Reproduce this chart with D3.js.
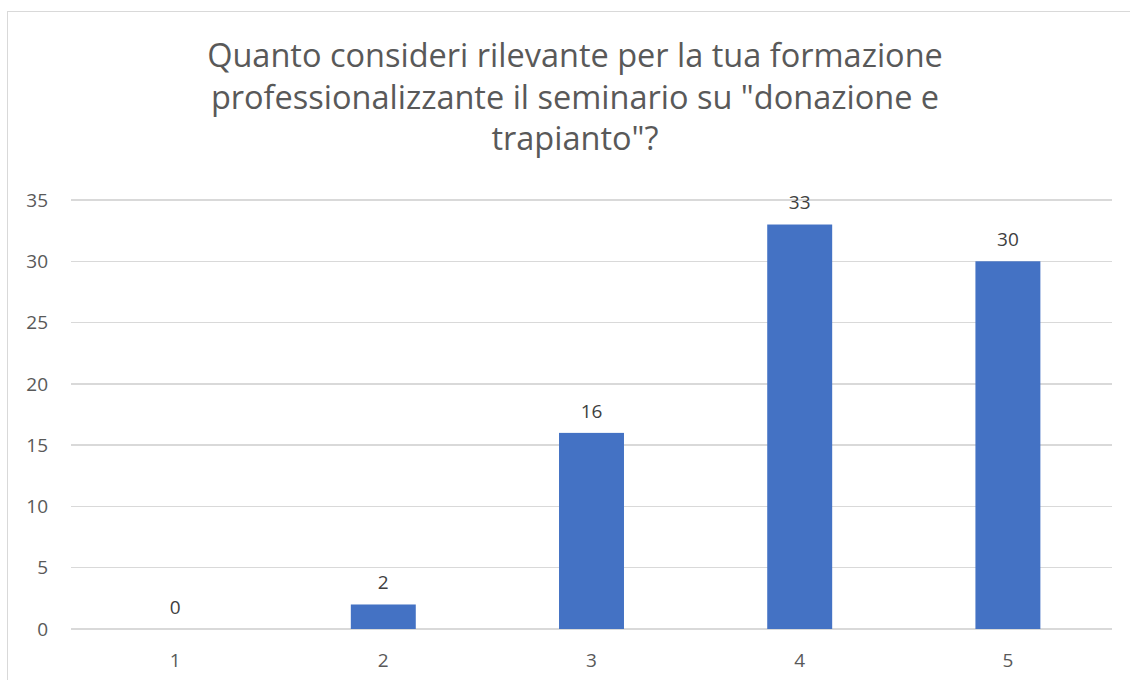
<!DOCTYPE html>
<meta charset="utf-8">
<script src="https://d3js.org/d3.v7.min.js"></script>
<style>
  body { margin: 0; background: #fff; }
  text { font-family: "Open Sans", "Liberation Sans", sans-serif; }
  .grid line { stroke: #d9d9d9; stroke-width: 1.3px; shape-rendering: crispEdges; }
  .tick-label { fill: #595959; font-size: 19px; }
  .bar-label { fill: #404040; font-size: 19px; }
  .title { fill: #595959; font-size: 32.5px; }
</style>
<div id="chart"></div>
<script>
  var categories = ["1", "2", "3", "4", "5"];
  var values = [0, 2, 16, 33, 30];
  var yTicks = [0, 5, 10, 15, 20, 25, 30, 35];
  var titleLines = [
    "Quanto consideri rilevante per la tua formazione",
    "professionalizzante il seminario su \"donazione e",
    "trapianto\"?"
  ];

  var W = 1130, H = 680;
  var margin = {top: 200, right: 18, bottom: 51, left: 71};
  var width = W - margin.left - margin.right,
      height = H - margin.top - margin.bottom;

  var svg = d3.select("#chart").append("svg")
      .attr("width", W)
      .attr("height", H);

  // chart frame (runs off the right and bottom of the picture)
  svg.append("rect")
      .attr("x", 7.5).attr("y", 11.5)
      .attr("width", W + 20).attr("height", H + 20)
      .attr("fill", "#fff")
      .attr("stroke", "#d9d9d9");

  svg.selectAll(".title").data(titleLines).enter()
    .append("text")
      .attr("class", "title")
      .attr("x", 575)
      .attr("y", function(d, i) { return 67 + i * 41.5; })
      .attr("text-anchor", "middle")
      .text(function(d) { return d; });

  var g = svg.append("g")
      .attr("transform", "translate(" + margin.left + "," + margin.top + ")");

  var x = d3.scaleBand()
      .domain(categories)
      .range([0, width])
      .paddingInner(0.688)
      .paddingOuter(0.344);

  var y = d3.scaleLinear()
      .domain([0, 35])
      .range([height, 0]);

  g.append("g").attr("class", "grid")
    .selectAll("line").data(yTicks).enter()
    .append("line")
      .attr("x1", 0).attr("x2", width)
      .attr("y1", function(d) { return y(d); })
      .attr("y2", function(d) { return y(d); });

  g.selectAll(".ylab").data(yTicks).enter()
    .append("text")
      .attr("class", "tick-label")
      .attr("x", -23)
      .attr("y", function(d) { return y(d); })
      .attr("dy", "0.35em")
      .attr("text-anchor", "end")
      .text(function(d) { return d; });

  g.selectAll(".xlab").data(categories).enter()
    .append("text")
      .attr("class", "tick-label")
      .attr("x", function(d) { return x(d) + x.bandwidth() / 2; })
      .attr("y", height + 31)
      .attr("dy", "0.35em")
      .attr("text-anchor", "middle")
      .text(function(d) { return d; });

  g.selectAll(".bar").data(values).enter()
    .append("rect")
      .attr("fill", "#4472c4")
      .attr("x", function(d, i) { return x(categories[i]); })
      .attr("width", x.bandwidth())
      .attr("y", function(d) { return y(d); })
      .attr("height", function(d) { return height - y(d); });

  g.selectAll(".bar-label").data(values).enter()
    .append("text")
      .attr("class", "bar-label")
      .attr("x", function(d, i) { return x(categories[i]) + x.bandwidth() / 2; })
      .attr("y", function(d) { return y(d) - 22; })
      .attr("dy", "0.35em")
      .attr("text-anchor", "middle")
      .text(function(d) { return d; });
</script>
